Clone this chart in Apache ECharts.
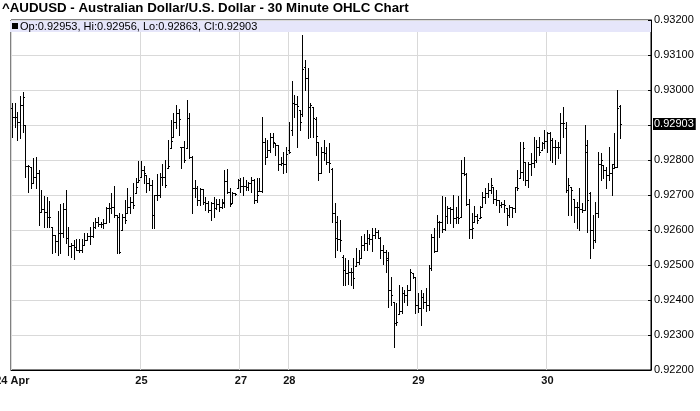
<!DOCTYPE html>
<html><head><meta charset="utf-8">
<script src="https://cdn.jsdelivr.net/npm/echarts@6.0.0/dist/echarts.min.js"></script>
<style>html,body{margin:0;padding:0;background:#fff}#c{width:700px;height:411px}</style>
</head><body><div id="c"></div>
<script>
const titleText = '^AUDUSD - Australian Dollar/U.S. Dollar - 30 Minute OHLC Chart';
const dayLabels = ['24 Apr','25','27','28','29','30'];
const dayStarts = [0,48,85,103,151,199];
const slotCount = 238;
const yMin = 0.922, yMax = 0.932, yStep = 0.001;

const opens = [
.92950,.92924,.92924,.92908,.92957,.92900,.92783,.92779,.92733,.92751,
.92762,.92652,.92660,.92652,.92638,.92609,.92586,.92568,.92591,.92591,
.92659,.92576,.92555,.92557,.92552,.92543,.92543,.92557,.92571,.92583,
.92583,.92609,.92624,.92617,.92617,.92619,.92662,.92662,.92666,.92643,
.92638,.92600,.92638,.92648,.92667,.92681,.92705,.92738,
.92752,.92771,.92757,.92733,.92729,.92643,.92700,.92700,.92751,.92752,
.92776,.92833,.92867,.92910,.92933,.92838,.92836,.92833,.92920,.92810,
.92719,.92719,.92686,.92716,.92681,.92676,.92657,.92676,.92662,.92674,
.92665,.92676,.92740,.92709,.92676,.92705,.92719,
.92743,.92726,.92726,.92722,.92733,.92743,.92686,.92711,.92712,.92852,
.92809,.92829,.92865,.92848,.92843,.92790,.92792,.92790,
.92830,.92886,.92962,.92959,.92943,.92931,.93067,.93033,.92952,.92952,
.92917,.92852,.92764,.92824,.92819,.92795,.92773,.92648,.92624,.92574,
.92524,.92486,.92478,.92479,.92481,.92498,.92508,.92521,.92557,.92562,
.92576,.92574,.92586,.92593,.92578,.92543,.92538,.92519,.92429,.92395,
.92333,.92359,.92369,.92419,.92414,.92429,.92476,.92467,
.92386,.92378,.92410,.92393,.92386,.92491,.92581,.92541,.92624,.92624,
.92602,.92640,.92662,.92660,.92634,.92638,.92638,.92762,.92760,.92674,
.92602,.92624,.92640,.92634,.92667,.92695,.92705,.92714,.92724,.92690,
.92686,.92671,.92674,.92662,.92643,.92665,.92662,.92722,.92748,.92767,
.92795,.92743,.92788,.92792,.92800,.92838,.92829,.92848,
.92855,.92878,.92857,.92838,.92838,.92838,.92905,.92891,.92714,.92724,
.92690,.92667,.92667,.92659,.92657,.92824,.92705,.92600,.92571,.92648,
.92790,.92786,.92771,.92757,.92762,.92790,.92781,.92953];

const highs = [
.92962,.92964,.92938,.92983,.92993,.92900,.92786,.92779,.92805,.92809,
.92771,.92714,.92697,.92695,.92684,.92609,.92586,.92654,.92674,.92676,
.92714,.92609,.92562,.92571,.92573,.92573,.92573,.92591,.92591,.92609,
.92624,.92633,.92638,.92624,.92631,.92667,.92676,.92705,.92726,.92643,
.92648,.92646,.92686,.92719,.92695,.92733,.92748,.92798,
.92798,.92783,.92757,.92748,.92743,.92700,.92759,.92762,.92790,.92800,
.92857,.92914,.92933,.92957,.92945,.92838,.92854,.92971,.92933,.92812,
.92743,.92726,.92719,.92716,.92693,.92684,.92681,.92693,.92690,.92688,
.92690,.92771,.92773,.92719,.92709,.92705,.92745,
.92748,.92752,.92743,.92738,.92751,.92747,.92748,.92748,.92924,.92862,
.92857,.92876,.92878,.92848,.92843,.92809,.92824,.92838,
.92910,.93026,.92986,.92983,.92943,.93157,.93086,.93062,.92962,.92952,
.92924,.92852,.92838,.92857,.92838,.92848,.92776,.92676,.92640,.92629,
.92529,.92519,.92514,.92491,.92519,.92549,.92543,.92584,.92588,.92600,
.92588,.92605,.92607,.92600,.92581,.92557,.92543,.92538,.92467,.92395,
.92392,.92443,.92438,.92429,.92443,.92489,.92476,.92467,
.92419,.92429,.92419,.92433,.92500,.92590,.92605,.92643,.92627,.92697,
.92695,.92669,.92667,.92700,.92667,.92697,.92800,.92809,.92762,.92690,
.92648,.92669,.92646,.92669,.92709,.92719,.92735,.92748,.92724,.92714,
.92686,.92681,.92686,.92662,.92671,.92667,.92724,.92771,.92852,.92852,
.92795,.92795,.92819,.92867,.92857,.92867,.92852,.92886,
.92881,.92881,.92862,.92857,.92852,.92933,.92952,.92910,.92748,.92724,
.92690,.92681,.92719,.92676,.92900,.92857,.92709,.92643,.92681,.92824,
.92819,.92786,.92781,.92838,.92790,.92876,.93000,.92956];

const lows = [
.92867,.92895,.92857,.92862,.92879,.92752,.92709,.92719,.92733,.92719,
.92614,.92652,.92608,.92609,.92609,.92533,.92538,.92529,.92533,.92581,
.92562,.92529,.92524,.92516,.92543,.92538,.92538,.92557,.92571,.92559,
.92581,.92605,.92611,.92609,.92605,.92619,.92624,.92648,.92638,.92535,
.92533,.92600,.92621,.92648,.92648,.92662,.92705,.92738,
.92752,.92733,.92709,.92714,.92605,.92605,.92686,.92695,.92729,.92724,
.92776,.92833,.92867,.92891,.92871,.92776,.92795,.92833,.92805,.92650,
.92695,.92671,.92671,.92674,.92657,.92652,.92629,.92638,.92659,.92655,
.92662,.92667,.92705,.92669,.92676,.92700,.92719,
.92709,.92700,.92714,.92714,.92709,.92678,.92681,.92711,.92709,.92790,
.92809,.92824,.92838,.92814,.92771,.92786,.92762,.92767,
.92819,.92871,.92924,.92838,.92886,.92926,.93000,.92862,.92867,.92867,
.92814,.92743,.92762,.92800,.92790,.92767,.92624,.92524,.92543,.92540,
.92443,.92443,.92445,.92443,.92433,.92498,.92502,.92519,.92543,.92543,
.92559,.92540,.92576,.92576,.92519,.92502,.92481,.92381,.92386,.92267,
.92329,.92359,.92362,.92395,.92386,.92429,.92462,.92362,
.92367,.92329,.92376,.92369,.92371,.92486,.92538,.92541,.92581,.92595,
.92600,.92619,.92619,.92609,.92619,.92621,.92638,.92757,.92671,.92576,
.92576,.92624,.92621,.92634,.92667,.92676,.92695,.92705,.92676,.92671,
.92652,.92665,.92652,.92614,.92638,.92638,.92652,.92714,.92748,.92743,
.92729,.92724,.92757,.92781,.92795,.92814,.92829,.92833,
.92824,.92800,.92795,.92790,.92805,.92819,.92867,.92710,.92643,.92643,
.92624,.92605,.92600,.92652,.92657,.92595,.92519,.92548,.92567,.92638,
.92743,.92748,.92719,.92743,.92700,.92776,.92781,.92863];

const closes = [
.92924,.92924,.92908,.92957,.92981,.92783,.92783,.92733,.92751,.92762,
.92652,.92660,.92652,.92638,.92638,.92586,.92568,.92591,.92591,.92659,
.92576,.92555,.92557,.92552,.92543,.92543,.92557,.92571,.92583,.92583,
.92609,.92624,.92617,.92617,.92619,.92662,.92662,.92666,.92643,.92638,
.92538,.92638,.92629,.92667,.92681,.92671,.92724,.92743,
.92771,.92762,.92733,.92729,.92643,.92700,.92700,.92751,.92752,.92729,
.92783,.92854,.92910,.92933,.92916,.92836,.92800,.92920,.92810,.92719,
.92719,.92686,.92716,.92681,.92676,.92657,.92676,.92662,.92674,.92665,
.92681,.92740,.92709,.92674,.92705,.92703,.92743,
.92726,.92726,.92722,.92733,.92743,.92686,.92700,.92712,.92852,.92809,
.92829,.92865,.92852,.92843,.92790,.92792,.92790,.92817,
.92824,.92962,.92959,.92955,.92910,.93060,.93033,.92952,.92957,.92919,
.92869,.92764,.92824,.92819,.92795,.92792,.92648,.92576,.92574,.92571,
.92486,.92478,.92479,.92481,.92464,.92508,.92521,.92557,.92562,.92576,
.92574,.92586,.92593,.92578,.92543,.92538,.92514,.92429,.92414,.92333,
.92336,.92369,.92419,.92414,.92429,.92480,.92467,.92386,
.92378,.92410,.92393,.92386,.92491,.92581,.92541,.92624,.92624,.92602,
.92640,.92662,.92660,.92634,.92638,.92634,.92762,.92760,.92674,.92602,
.92605,.92640,.92629,.92638,.92695,.92705,.92714,.92729,.92690,.92686,
.92671,.92674,.92671,.92643,.92665,.92662,.92722,.92719,.92767,.92833,
.92743,.92788,.92792,.92800,.92838,.92824,.92848,.92855,
.92878,.92857,.92838,.92838,.92838,.92905,.92905,.92714,.92729,.92714,
.92667,.92667,.92659,.92657,.92843,.92686,.92600,.92571,.92648,.92790,
.92800,.92771,.92757,.92762,.92776,.92780,.92950,.92903];

const FONT = 'Liberation Sans, Arial, sans-serif';
const cats = Array.from({length: slotCount}, (_, i) => String(i));
const labelAt = {};
dayStarts.forEach((s, k) => { labelAt[s] = dayLabels[k]; });
const isDay = (i) => labelAt[i] !== undefined;
const bars = opens.map((o, i) => [i, o, highs[i], lows[i], closes[i]]);
const last = opens.length - 1;
const legendText = 'Op:' + opens[last].toFixed(5) + ', Hi:' + highs[last].toFixed(5) +
  ', Lo:' + lows[last].toFixed(5) + ', Cl:' + closes[last].toFixed(5);

const chart = echarts.init(document.getElementById('c'), null, {renderer: 'canvas'});
chart.setOption({
  animation: false,
  backgroundColor: '#fff',
  grid: {left: 11, right: 49, top: 20, bottom: 41, show: true, borderColor: '#000', borderWidth: 1,
         containLabel: false, outerBoundsMode: 'none'},
  xAxis: {
    type: 'category', data: cats, boundaryGap: true,
    axisLine: {lineStyle: {color: '#000', width: 1}},
    axisTick: {show: false},
    axisLabel: {
      interval: (i) => isDay(i),
      formatter: (v) => labelAt[+v] || '',
      fontFamily: FONT, fontWeight: 'bold', fontSize: 11, color: '#111', margin: 5,
      hideOverlap: false
    },
    splitLine: {show: true, interval: (i) => isDay(i), lineStyle: {color: '#d9d9d9', width: 1}}
  },
  yAxis: {
    type: 'value', position: 'right', min: yMin, max: yMax, interval: yStep,
    axisLine: {show: true, lineStyle: {color: '#000', width: 1}},
    axisTick: {show: true, inside: true, length: 3, lineStyle: {color: '#000'}},
    axisLabel: {formatter: (v) => v.toFixed(5), fontFamily: FONT, fontSize: 11, color: '#000', margin: 3},
    splitLine: {show: true, lineStyle: {color: '#d9d9d9', width: 1}}
  },
  series: [{
    type: 'custom',
    data: bars,
    encode: {x: 0, y: [1, 2, 3, 4]},
    z: 5,
    clip: false,
    renderItem: (params, api) => {
      const xi = api.value(0);
      const pO = api.coord([xi, api.value(1)]);
      const yH = api.coord([xi, api.value(2)])[1];
      const yL = api.coord([xi, api.value(3)])[1];
      const yC = api.coord([xi, api.value(4)])[1];
      const n = Math.floor(pO[0]);
      const x = n + 0.5;
      const ry = (v) => Math.round(v) + 0.5;
      const st = {stroke: '#000', lineWidth: 1};
      return {type: 'group', children: [
        {type: 'line', shape: {x1: x, y1: Math.round(yH), x2: x, y2: Math.round(yL) + 1}, style: st},
        {type: 'line', shape: {x1: n - 1, y1: ry(pO[1]), x2: n + 1, y2: ry(pO[1])}, style: st},
        {type: 'line', shape: {x1: n, y1: ry(yC), x2: n + 2, y2: ry(yC)}, style: st}
      ]};
    }
  }]
});

const lastY = chart.convertToPixel({yAxisIndex: 0}, closes[last]);
chart.setOption({
  graphic: [
    {type: 'text', left: 2, top: 2, z: 10,
     style: {text: titleText, font: 'bold 13.3px ' + FONT, fill: '#000'}},
    {type: 'rect', z: 3, shape: {x: 10, y: 21, width: 641, height: 11}, style: {fill: '#e6e6fa'}},
    {type: 'rect', z: 4, shape: {x: 12, y: 23, width: 6, height: 6}, style: {fill: '#000'}},
    {type: 'text', z: 4, x: 20, y: 26.5,
     style: {text: legendText, font: '11px ' + FONT, fill: '#000', verticalAlign: 'middle'}},
    {type: 'text', z: 20, x: 653, y: Math.round(lastY),
     style: {text: closes[last].toFixed(5), font: '11px ' + FONT, fill: '#fff',
             backgroundColor: '#000', padding: [1, 2, 0, 1], verticalAlign: 'middle'}}
  ]
});
</script>
</body></html>
